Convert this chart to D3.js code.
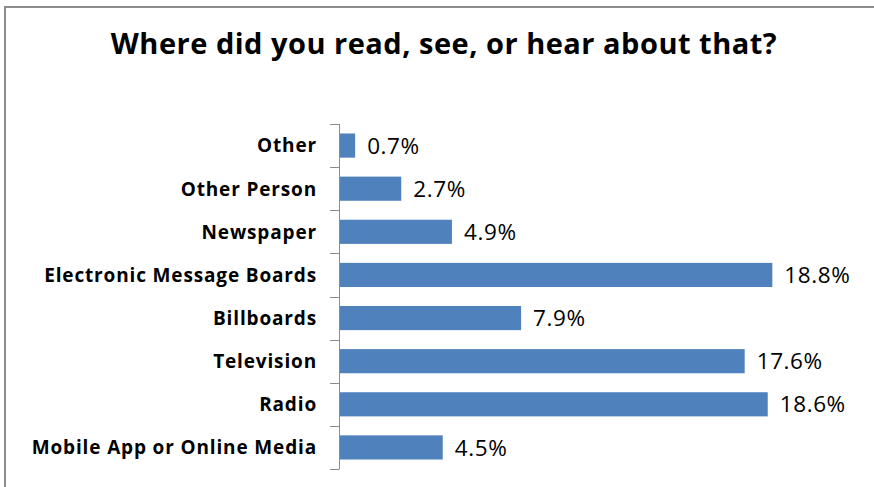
<!DOCTYPE html>
<html>
<head>
<meta charset="utf-8">
<script src="https://cdn.jsdelivr.net/npm/d3@7/dist/d3.min.js"></script>
<style>
  html, body { margin: 0; padding: 0; background: #fff; }
  svg { display: block; }
</style>
</head>
<body>
<svg id="chart" width="874" height="487"></svg>
<script>
// Survey responses: where respondents encountered the message
const categories = [
  "Other",
  "Other Person",
  "Newspaper",
  "Electronic Message Boards",
  "Billboards",
  "Television",
  "Radio",
  "Mobile App or Online Media"
];
const values = [0.7, 2.7, 4.9, 18.8, 7.9, 17.6, 18.6, 4.5];
const valueLabels = ["0.7%", "2.7%", "4.9%", "18.8%", "7.9%", "17.6%", "18.6%", "4.5%"];
const titleText = "Where did you read, see, or hear about that?";

const svg = d3.select("#chart");
const W = 874, H = 487;

const margin = { left: 339, right: 74, top: 124, bottom: 18 };

// chart frame (top and left edges visible)
svg.append("path")
  .attr("d", `M5,${H} L5,7 L${W},7`)
  .attr("fill", "none")
  .attr("stroke", "#8c8c8c")
  .attr("stroke-width", 2);

svg.append("text")
  .attr("x", 444)
  .attr("y", 54)
  .attr("text-anchor", "middle")
  .attr("font-family", "'Open Sans', sans-serif")
  .attr("font-weight", 700)
  .attr("font-size", 29)
  .attr("letter-spacing", 0.5)
  .attr("fill", "#000")
  .text(titleText);

const x = d3.scaleLinear().domain([0, 20]).range([margin.left, W - margin.right]);
const y = d3.scaleBand().domain(categories).range([margin.top, H - margin.bottom]).paddingInner(0.44).paddingOuter(0.22);

const data = categories.map((c, i) => ({ c, v: values[i], label: valueLabels[i] }));

// bars
svg.append("g").selectAll("rect").data(data).join("rect")
  .attr("x", x(0))
  .attr("y", d => y(d.c))
  .attr("width", d => x(d.v) - x(0))
  .attr("height", y.bandwidth())
  .attr("fill", "#4f81bd");

// category axis: line with ticks on band boundaries
const boundaries = d3.range(categories.length + 1).map(i => margin.top + i * (H - margin.bottom - margin.top) / categories.length);
const axis = svg.append("g").attr("stroke", "#8c8c8c").attr("stroke-width", 1);
axis.append("line")
  .attr("x1", x(0) + 0.5).attr("x2", x(0) + 0.5)
  .attr("y1", boundaries[0]).attr("y2", boundaries[boundaries.length - 1]);
axis.selectAll("line.tick").data(boundaries).join("line")
  .attr("class", "tick")
  .attr("x1", x(0) - 9).attr("x2", x(0) + 0.5)
  .attr("y1", d => Math.round(d) + 0.5).attr("y2", d => Math.round(d) + 0.5);

// category labels
svg.append("g").selectAll("text").data(data).join("text")
  .attr("x", 317)
  .attr("y", d => y(d.c) + y.bandwidth() / 2)
  .attr("dy", "0.36em")
  .attr("text-anchor", "end")
  .attr("font-family", "'Open Sans', sans-serif")
  .attr("font-weight", 700)
  .attr("font-size", 19)
  .attr("letter-spacing", 0.85)
  .attr("fill", "#000")
  .text(d => d.c);

// value labels
svg.append("g").selectAll("text").data(data).join("text")
  .attr("x", d => x(d.v) + 12)
  .attr("y", d => y(d.c) + y.bandwidth() / 2)
  .attr("dy", "0.36em")
  .attr("font-family", "'Open Sans', sans-serif")
  .attr("font-size", 22.5)
  .attr("letter-spacing", 0.6)
  .attr("fill", "#000")
  .text(d => d.label);
</script>
</body>
</html>
